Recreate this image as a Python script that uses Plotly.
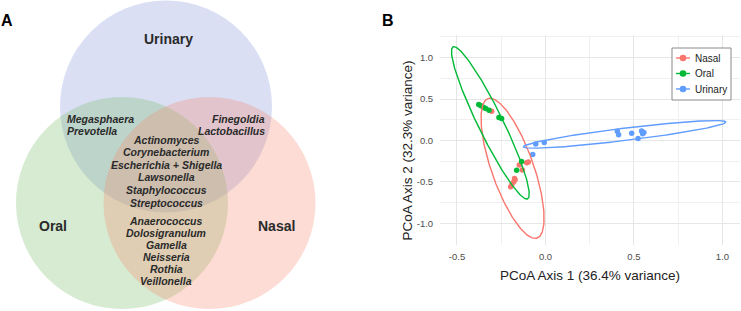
import numpy as np
import plotly.graph_objects as go

# ---------------- Panel A data (Venn) ----------------
venn_sets = ["Urinary", "Oral", "Nasal"]
venn_cx = [166, 122, 209.5]
venn_cy = [106.5, 203, 203]
venn_r = [106, 106, 106]
venn_fill = ["rgba(134,150,218,0.30)", "rgba(118,188,102,0.30)", "rgba(245,138,112,0.30)"]

uo_only = ["Megasphaera", "Prevotella"]
un_only = ["Finegoldia", "Lactobacillus"]
core_all = ["Actinomyces", "Corynebacterium", "Escherichia + Shigella",
            "Lawsonella", "Staphylococcus", "Streptococcus"]
on_only = ["Anaerococcus", "Dolosigranulum", "Gamella", "Neisseria", "Rothia", "Veillonella"]

# ---------------- Panel B data (PCoA) ----------------
groups = ["Nasal", "Oral", "Urinary"]
colors = {"Nasal": "#F8766D", "Oral": "#00BA38", "Urinary": "#619CFF"}

nasal_x = [-0.304, -0.148, -0.106, -0.097, -0.131, -0.172, -0.180, -0.190, -0.197, -0.175]
nasal_y = [0.354, -0.295, -0.270, -0.260, -0.355, -0.475, -0.500, -0.530, -0.560, -0.460]
oral_x = [-0.377, -0.365, -0.351, -0.338, -0.319, -0.263, -0.248, -0.135, -0.163]
oral_y = [0.435, 0.420, 0.400, 0.386, 0.366, 0.278, 0.266, -0.255, -0.360]
urinary_x = [-0.055, -0.007, -0.072, 0.406, 0.413, 0.487, 0.523, 0.543, 0.556, 0.549]
urinary_y = [-0.041, -0.024, -0.169, 0.112, 0.068, 0.088, 0.024, 0.116, 0.097, 0.080]

# ellipse: centre, first conjugate semi-diameter (ux, uy), second (vx, vy)
ell_cx = {"Nasal": -0.186, "Oral": -0.3115, "Urinary": 0.4475}
ell_cy = {"Nasal": -0.336, "Oral": 0.213, "Urinary": 0.074}
ell_u = {"Nasal": (-0.127, 0.846), "Oral": (-0.2055, 0.92), "Urinary": (0.5725, 0.149)}
ell_v = {"Nasal": (0.125, 0.0), "Oral": (0.078, 0.0), "Urinary": (0.0, 0.075)}

x_ticks = [-0.5, 0.0, 0.5, 1.0]
x_ticktext = ["-0.5", "0.0", "0.5", "1.0"]
y_ticks = [-1.0, -0.5, 0.0, 0.5, 1.0]
y_ticktext = ["-1.0", "-0.5", "0.0", "0.5", "1.0"]

pts = {"Nasal": (nasal_x, nasal_y), "Oral": (oral_x, oral_y), "Urinary": (urinary_x, urinary_y)}

W, H = 741, 311
FONT = "Liberation Sans, Arial, sans-serif"

fig = go.Figure()

for g in groups:
    x, y = pts[g]
    fig.add_trace(go.Scatter(x=x, y=y, mode="markers", name=g, showlegend=False,
                             marker=dict(color=colors[g], size=5.5, line=dict(width=0)),
                             xaxis="x", yaxis="y", hoverinfo="skip"))
t = np.linspace(0, 2 * np.pi, 240)
for g in groups:
    ux, uy = ell_u[g]
    vx, vy = ell_v[g]
    ex = ell_cx[g] + ux * np.cos(t) + vx * np.sin(t)
    ey = ell_cy[g] + uy * np.cos(t) + vy * np.sin(t)
    fig.add_trace(go.Scatter(x=ex, y=ey, mode="lines", name=g, showlegend=False,
                             line=dict(color=colors[g], width=1.4),
                             xaxis="x", yaxis="y", hoverinfo="skip"))

# Venn circles
shapes = []
for s, cx, cy, r, fc in zip(venn_sets, venn_cx, venn_cy, venn_r, venn_fill):
    shapes.append(dict(type="circle", xref="x2", yref="y2",
                       x0=cx - r, x1=cx + r, y0=cy - r, y1=cy + r,
                       fillcolor=fc, line=dict(width=0), layer="below"))

ann = []
def add_txt(text, x, y, size, bold=True, italic=False, anchor="center", color="#2a2a2a", ref="x2"):
    t_ = text
    if italic:
        t_ = "<i>" + t_ + "</i>"
    if bold:
        t_ = "<b>" + t_ + "</b>"
    if ref == "x2":
        d = dict(x=x, y=y, xref="x2", yref="y2")
    else:
        d = dict(x=x / W, y=1 - y / H, xref="paper", yref="paper")
    d.update(text=t_, showarrow=False, xanchor=anchor, yanchor="middle",
             font=dict(family=FONT, size=size, color=color))
    ann.append(d)

# set labels
add_txt("Urinary", 168, 38.5, 14)
add_txt("Oral", 53, 226, 14)
add_txt("Nasal", 276.5, 226, 14)

for i, s in enumerate(uo_only):
    add_txt(s, 65, 119 + i * 12.3, 10.5, italic=True, anchor="left")
for i, s in enumerate(un_only):
    add_txt(s, 267, 119 + i * 12.3, 10.5, italic=True, anchor="right")
for i, s in enumerate(core_all):
    add_txt(s, 166, 139.5 + i * 12.6, 10.5, italic=True)
for i, s in enumerate(on_only):
    add_txt(s, 166, 220.7 + i * 12.0, 10.5, italic=True)

# panel letters
add_txt("A", 7, 20.5, 16, color="#000000", ref="paper")
add_txt("B", 387.5, 20.5, 16, color="#000000", ref="paper")

# axis titles (panel B)
add_txt("PCoA Axis 1 (36.4% variance)", 590, 275, 13.5, bold=False, color="#222222", ref="paper")
ann.append(dict(text="PCoA Axis 2 (32.3% variance)", x=406.5 / W, y=1 - 151 / H,
                xref="paper", yref="paper", showarrow=False, textangle=-90,
                xanchor="center", yanchor="middle",
                font=dict(family=FONT, size=13.5, color="#222222")))

# legend (drawn as a key box in paper space)
LX0, LX1, LY0, LY1 = 672, 731, 48, 100
shapes.append(dict(type="rect", xref="paper", yref="paper",
                   x0=LX0 / W, x1=LX1 / W, y0=1 - LY1 / H, y1=1 - LY0 / H,
                   fillcolor="white", line=dict(color="#8a8a8a", width=1), layer="above"))
for i, g in enumerate(groups):
    yy = 1 - (58 + i * 15.5) / H
    shapes.append(dict(type="line", xref="paper", yref="paper",
                       x0=676 / W, x1=690 / W, y0=yy, y1=yy,
                       line=dict(color=colors[g], width=1.4), layer="above"))
    shapes.append(dict(type="circle", xref="paper", yref="paper",
                       x0=(683 - 3.3) / W, x1=(683 + 3.3) / W,
                       y0=yy - 3.3 / H, y1=yy + 3.3 / H,
                       fillcolor=colors[g], line=dict(width=0), layer="above"))
    add_txt(g, 692.5, 58 + i * 15.5, 10, bold=False, anchor="left", color="#222222", ref="paper")

grid_major = "#e6e6e6"
grid_minor = "#f0f0f0"

fig.update_layout(
    width=W, height=H, margin=dict(l=0, r=0, t=0, b=0),
    paper_bgcolor="white", plot_bgcolor="white",
    font=dict(family=FONT),
    shapes=shapes, annotations=ann,
    xaxis=dict(domain=[440 / W, 740 / W], range=[-0.596, 1.099],
               tickvals=x_ticks, ticktext=x_ticktext,
               showgrid=True, gridcolor=grid_major, gridwidth=1.3,
               minor=dict(dtick=0.25, tick0=0, showgrid=True, gridcolor=grid_minor, gridwidth=0.8),
               zeroline=False, showline=False,
               ticks="outside", ticklen=3, tickcolor="rgba(0,0,0,0)",
               tickfont=dict(family=FONT, size=9.5, color="#4d4d4d")),
    yaxis=dict(domain=[1 - 245 / H, 1 - 35 / H], range=[-1.262, 1.274],
               tickvals=y_ticks, ticktext=y_ticktext,
               showgrid=True, gridcolor=grid_major, gridwidth=1.3,
               minor=dict(dtick=0.25, tick0=0, showgrid=True, gridcolor=grid_minor, gridwidth=0.8),
               zeroline=False, showline=False,
               ticks="outside", ticklen=4, tickcolor="rgba(0,0,0,0)",
               tickfont=dict(family=FONT, size=9.5, color="#4d4d4d")),
    xaxis2=dict(domain=[0, 370 / W], range=[0, 370], visible=False, fixedrange=True),
    yaxis2=dict(domain=[0, 1], range=[311, 0], visible=False, fixedrange=True),
    showlegend=False,
)

fig.write_html("out.html")
